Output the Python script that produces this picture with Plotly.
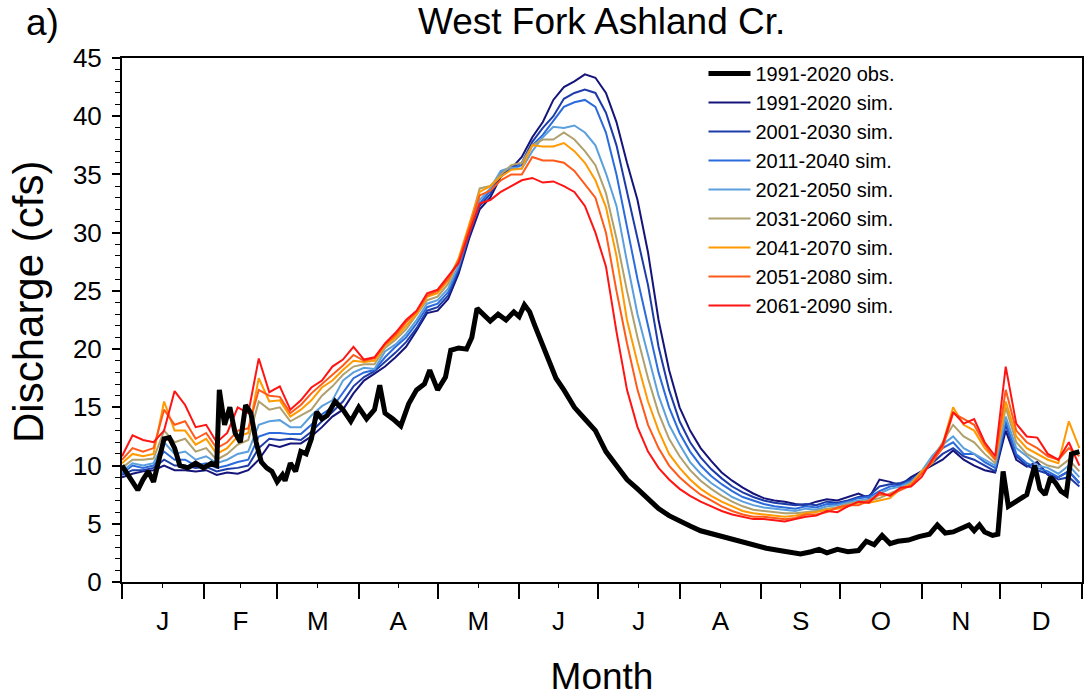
import plotly.graph_objects as go

# ---------------- data ----------------
sim_days = list(range(0, 365, 4))  # day of year (0 = Jan 1)

obs_days = [0, 3, 6, 8, 10, 12, 14, 16, 18, 20, 22, 25, 28, 31, 34, 36, 37, 39, 41, 43,
            45, 47, 49, 51, 53, 55, 57, 59, 61, 62, 64, 66, 68, 70, 72, 74, 76, 78, 81, 84,
            87, 90, 93, 96, 98, 100, 103, 106, 109, 112, 115, 117, 120, 123, 125, 128, 131, 133, 135, 137,
            140, 143, 146, 149, 151, 153, 155, 157, 159, 162, 165, 168, 172, 176, 180, 184, 188, 192, 196, 200,
            204, 208, 212, 216, 220, 225, 230, 235, 240, 245, 250, 254, 258, 262, 265, 268, 272, 276, 280, 283,
            286, 289, 292, 295, 299, 303, 307, 310, 313, 316, 319, 322, 324, 326, 328, 331, 333, 335, 337, 339,
            342, 344, 347, 349, 351, 353, 355, 357, 359, 361, 364]
obs_vals = [10.0, 9.0, 7.9, 8.8, 9.5, 8.6, 10.5, 12.3, 12.4, 11.5, 10.0, 9.8, 10.2, 9.8, 10.2, 10.0, 16.5, 13.5, 15.0, 12.8,
            12.0, 15.2, 14.5, 12.0, 10.3, 9.8, 9.5, 8.6, 9.2, 8.7, 10.2, 9.5, 11.2, 11.0, 12.3, 14.6, 14.0, 14.3, 15.5, 14.8,
            13.8, 15.0, 14.0, 14.8, 16.9, 14.5, 14.0, 13.4, 15.3, 16.5, 17.0, 18.2, 16.5, 17.6, 19.9, 20.1, 20.0, 21.0, 23.5, 23.0,
            22.4, 23.0, 22.5, 23.2, 22.8, 23.8, 23.2, 22.0, 20.8, 19.0, 17.5, 16.5, 15.0, 14.0, 13.0, 11.2, 10.0, 8.8, 8.0, 7.1,
            6.3, 5.7, 5.2, 4.8, 4.4, 4.1, 3.8, 3.4, 3.1, 2.9, 2.7, 2.6, 2.4, 2.6, 2.8, 2.5, 2.8, 2.6, 2.7, 3.5,
            3.2, 4.0, 3.3, 3.5, 3.6, 3.9, 4.1, 4.9, 4.2, 4.3, 4.6, 4.9, 4.4, 4.9, 4.3, 4.0, 4.1, 9.5, 6.5, 6.8,
            7.2, 7.5, 10.0, 8.0, 7.5, 9.0, 8.5, 7.8, 7.5, 11.0, 11.2]

sim_1991_2020 = [9.0, 9.3, 9.5, 9.6, 10.0, 9.6, 9.6, 9.5, 9.6, 9.2, 9.4, 9.3, 9.6, 10.5, 11.8,
                 11.6, 11.9, 11.9, 12.5, 13.3, 14.2, 14.8, 16.2, 17.3, 17.9, 18.5, 19.3, 20.2, 21.6, 23.1, 23.3, 24.3, 26.5, 29.5, 32.0, 33.0, 34.8, 35.5,
                 36.5, 38.2, 39.5, 41.4, 42.5, 43.0, 43.6, 43.3, 42.0, 39.5, 36.0, 32.8, 28.3, 22.5, 18.2, 15.0, 13.0, 11.5, 10.4, 9.4, 8.7, 8.1, 7.6,
                 7.2, 7.0, 6.9, 6.7, 6.6, 6.9, 7.1, 7.0, 7.3, 7.6, 7.2, 8.8, 8.6, 8.3, 9.0, 9.5, 10.0, 10.5, 11.3, 10.5, 10.0, 9.6, 9.4, 13.0, 10.5, 9.9, 10.3, 9.2, 9.0, 9.5, 8.5]
sim_2001_2030 = [9.2, 9.6, 9.6, 9.8, 10.5, 10.0, 10.0, 9.8, 9.9, 9.5, 9.7, 9.8, 10.0, 11.5, 12.3,
                 12.2, 12.3, 12.2, 12.9, 13.8, 14.6, 15.5, 16.8, 17.6, 18.1, 18.9, 19.7, 20.6, 21.8, 23.3, 23.6, 24.6, 26.8, 29.8, 32.3, 33.3, 35.0, 35.6,
                 36.0, 37.8, 39.0, 40.0, 41.5, 42.0, 42.3, 42.0, 40.3, 37.5, 33.5, 29.5, 25.5, 20.2, 16.5, 13.8, 12.0, 10.7, 9.7, 8.9, 8.2, 7.7, 7.3,
                 7.0, 6.8, 6.7, 6.6, 6.7, 6.6, 6.9, 6.8, 7.0, 7.3, 7.4, 8.2, 8.4, 8.5, 8.8, 9.4, 10.2, 11.0, 11.5, 10.8, 10.5, 10.0, 9.5, 13.5, 10.8, 10.0, 9.6, 9.3, 8.8, 9.0, 8.2]
sim_2011_2040 = [9.3, 10.0, 9.8, 10.0, 11.2, 10.5, 10.5, 10.0, 10.2, 9.8, 10.0, 10.3, 10.5, 12.5, 12.8,
                 12.8, 12.7, 12.7, 13.5, 14.4, 15.0, 16.3, 17.5, 18.0, 18.2, 19.3, 20.2, 21.0, 22.2, 23.6, 23.9, 24.9, 27.0, 30.0, 32.5, 33.6, 35.2, 35.5,
                 35.8, 37.5, 38.4, 39.6, 40.8, 41.2, 41.4, 40.8, 38.6, 35.0, 30.5, 26.0, 22.0, 18.0, 15.0, 12.8, 11.2, 10.0, 9.1, 8.4, 7.8, 7.3, 7.0,
                 6.7, 6.5, 6.4, 6.3, 6.5, 6.4, 6.7, 6.7, 6.9, 7.2, 7.3, 7.8, 8.2, 8.3, 8.7, 9.3, 10.5, 11.5, 12.0, 11.0, 11.0, 10.3, 9.8, 13.8, 11.0, 10.2, 9.8, 9.5, 9.0, 9.5, 8.5]
sim_2021_2050 = [9.5, 10.2, 10.0, 10.2, 12.0, 11.0, 11.2, 10.5, 10.8, 10.2, 10.5, 11.0, 11.2, 13.5, 13.8,
                 13.9, 13.3, 13.3, 14.3, 15.1, 15.6, 17.3, 18.0, 18.4, 18.3, 19.8, 20.4, 21.3, 22.5, 23.9, 24.2, 25.2, 27.2, 30.2, 32.8, 33.8, 35.3, 35.6,
                 35.5, 37.0, 38.2, 39.1, 39.0, 39.2, 38.6, 37.5, 35.1, 32.3, 27.5, 23.0, 19.5, 16.0, 13.5, 11.8, 10.3, 9.3, 8.5, 7.9, 7.3, 6.9, 6.6,
                 6.4, 6.3, 6.2, 6.1, 6.3, 6.2, 6.5, 6.6, 6.8, 7.0, 7.1, 7.6, 8.0, 8.2, 8.6, 9.5, 10.8, 11.8, 12.5, 11.5, 11.0, 10.5, 10.0, 14.2, 11.5, 10.8, 10.0, 9.8, 9.3, 10.0, 9.0]
sim_2031_2060 = [9.8, 10.5, 10.5, 10.6, 13.0, 12.0, 12.3, 11.2, 11.5, 10.5, 11.0, 11.8, 12.2, 15.5, 14.8,
                 15.0, 13.8, 14.3, 14.8, 16.0, 16.8, 17.8, 18.5, 18.7, 18.7, 20.1, 20.8, 21.7, 22.9, 24.2, 24.5, 25.6, 27.6, 30.5, 33.8, 34.0, 35.0, 35.8,
                 36.0, 37.5, 38.0, 38.0, 38.6, 38.0, 37.0, 35.8, 33.4, 29.5, 25.0, 21.0, 17.5, 14.5, 12.3, 10.8, 9.6, 8.7, 8.0, 7.4, 6.9, 6.5, 6.2,
                 6.1, 6.0, 5.9, 5.9, 6.0, 6.1, 6.3, 6.4, 6.7, 6.9, 7.0, 7.2, 7.6, 8.0, 8.5, 9.4, 10.5, 12.0, 13.5, 12.5, 12.0, 11.0, 10.2, 15.0, 12.0, 11.0, 10.5, 10.0, 9.8, 10.5, 9.5]
sim_2041_2070 = [10.2, 11.0, 10.8, 11.0, 15.5, 13.0, 13.0, 11.8, 12.3, 11.0, 11.5, 12.5, 12.8, 17.5, 15.5,
                 15.6, 14.2, 14.8, 15.6, 16.7, 17.3, 18.2, 19.0, 18.9, 19.0, 20.3, 21.0, 22.0, 23.0, 24.5, 24.8, 25.9, 27.8, 30.7, 33.5, 34.0, 34.8, 35.4,
                 35.5, 37.5, 37.4, 37.4, 37.7, 37.0, 36.0, 34.5, 32.2, 28.0, 22.5, 18.8, 15.5, 13.0, 11.0, 9.8, 8.8, 8.0, 7.4, 6.9, 6.5, 6.1, 5.9,
                 5.8, 5.7, 5.6, 5.7, 5.9, 6.0, 6.2, 6.3, 6.5, 6.8, 6.8, 7.0, 7.2, 8.0, 8.4, 9.5, 10.2, 11.8, 15.0, 13.5, 13.0, 11.5, 10.5, 15.5, 12.5, 11.5, 11.0, 10.5, 10.2, 13.8, 11.5]
sim_2051_2080 = [10.5, 11.5, 11.2, 11.5, 14.8, 13.5, 13.8, 12.3, 12.8, 11.5, 12.0, 13.0, 13.2, 16.5, 16.0,
                 15.9, 14.5, 15.2, 16.2, 17.0, 17.8, 18.6, 19.5, 19.0, 19.2, 20.4, 21.2, 22.3, 23.2, 24.6, 25.0, 26.0, 27.6, 30.5, 33.2, 33.6, 34.5, 35.0,
                 35.0, 36.5, 36.2, 36.2, 36.0, 35.3, 34.2, 33.0, 30.0, 25.0, 20.5, 16.5, 13.5, 11.5, 10.0, 9.0, 8.2, 7.5, 7.0, 6.5, 6.1, 5.8, 5.6,
                 5.6, 5.5, 5.4, 5.5, 5.8, 5.8, 6.0, 6.4, 6.6, 6.6, 7.0, 7.5, 7.5, 7.9, 8.3, 9.3, 10.3, 11.5, 14.5, 14.0, 13.5, 11.8, 10.5, 16.5, 13.0, 12.0, 11.5, 10.8, 10.5, 11.5, 10.8]
sim_2061_2090 = [10.8, 12.6, 12.2, 12.0, 13.0, 16.4, 15.2, 13.3, 13.5, 12.0, 12.8, 15.0, 14.5, 19.2, 16.3,
                 16.8, 14.8, 15.6, 16.7, 17.3, 18.5, 19.1, 20.2, 19.1, 19.3, 20.5, 21.4, 22.5, 23.3, 24.8, 25.1, 26.2, 27.4, 30.0, 32.5, 32.8, 33.5, 34.0,
                 34.5, 34.7, 34.3, 34.4, 34.0, 33.5, 32.3, 30.0, 27.1, 21.5, 16.5, 13.3, 11.2, 9.8, 8.8, 8.0, 7.4, 6.9, 6.5, 6.1, 5.8, 5.6, 5.4,
                 5.4, 5.3, 5.2, 5.4, 5.6, 5.7, 6.1, 6.0, 6.5, 6.9, 6.8, 7.7, 7.4, 8.1, 8.2, 9.0, 10.5, 11.8, 14.6, 13.6, 14.0, 12.0, 10.8, 18.5, 13.6, 12.5, 12.4, 11.0, 10.5, 12.0, 10.0]

sim_names = ["1991-2020 sim.", "2001-2030 sim.", "2011-2040 sim.", "2021-2050 sim.",
             "2031-2060 sim.", "2041-2070 sim.", "2051-2080 sim.", "2061-2090 sim."]
sim_series = [sim_1991_2020, sim_2001_2030, sim_2011_2040, sim_2021_2050,
              sim_2031_2060, sim_2041_2070, sim_2051_2080, sim_2061_2090]
sim_colors = ["#14147a", "#1e3ca8", "#2b6bdc", "#5b9fdd", "#b0a06e", "#ff9a00", "#ff5a1a", "#ff1414"]

month_starts = [0, 31, 59, 90, 120, 151, 181, 212, 243, 273, 304, 334, 365]
month_labels = ["J", "F", "M", "A", "M", "J", "J", "A", "S", "O", "N", "D"]

# ---------------- figure ----------------
FONT = "Liberation Sans, Arial, sans-serif"
fig = go.Figure()

for i, (name, vals, col) in enumerate(zip(sim_names, sim_series, sim_colors)):
    fig.add_trace(go.Scatter(x=sim_days, y=vals, mode="lines", name=name,
                             line=dict(color=col, width=2), legendrank=2 + i))

fig.add_trace(go.Scatter(x=obs_days, y=obs_vals, mode="lines", name="1991-2020 obs.",
                         line=dict(color="black", width=5), legendrank=1))

mid_month = [(month_starts[i] + month_starts[i + 1]) / 2 for i in range(12)]

fig.update_layout(
    width=1084, height=698,
    margin=dict(l=122, r=2, t=58, b=116, autoexpand=False),
    paper_bgcolor="white", plot_bgcolor="white",
    font=dict(family=FONT, color="black"),
    showlegend=True,
    legend=dict(x=0.6057, y=1.0076, xanchor="left", yanchor="top",
                bgcolor="rgba(0,0,0,0)", font=dict(size=20, family=FONT),
                tracegroupgap=0, itemwidth=42),
    title=dict(text="West Fork Ashland Cr.", x=0.555, xanchor="center",
               y=1 - 21 / 698, yanchor="middle", font=dict(size=37, family=FONT)),
)

fig.update_xaxes(
    range=[0, 365], showgrid=False, zeroline=False, automargin=False,
    showline=True, linecolor="black", linewidth=2, mirror=True,
    tickmode="array", tickvals=mid_month, ticktext=month_labels,
    ticks="outside", ticklen=4, tickwidth=1, tickcolor="black",
    tickfont=dict(size=26, family=FONT), ticklabelstandoff=11,
    minor=dict(tickmode="array", tickvals=month_starts, ticks="outside",
               ticklen=15, tickwidth=2, tickcolor="black"),
    title=dict(text="Month", font=dict(size=37, family=FONT), standoff=28),
)

fig.update_yaxes(
    range=[0, 45], showgrid=False, zeroline=False, automargin=False,
    showline=True, linecolor="black", linewidth=2, mirror="allticks",
    tickmode="array", tickvals=[0, 5, 10, 15, 20, 25, 30, 35, 40, 45],
    ticks="outside", ticklen=8, tickwidth=2, tickcolor="black",
    tickfont=dict(size=26, family=FONT), ticklabelstandoff=5,
    minor=dict(dtick=1, ticks="outside", ticklen=5, tickwidth=1, tickcolor="black"),
)

fig.add_annotation(text="Discharge (cfs)", textangle=-90, xref="paper", yref="paper",
                   x=-(122 - 28) / 960, y=(582 - 302) / 524, xanchor="center", yanchor="middle",
                   showarrow=False, font=dict(size=42, family=FONT))
fig.add_annotation(text="a)", xref="paper", yref="paper",
                   x=-(122 - 42) / 960, y=(582 - 22) / 524, xanchor="center", yanchor="middle",
                   showarrow=False, font=dict(size=37, family=FONT))

fig.write_html("out.html")
